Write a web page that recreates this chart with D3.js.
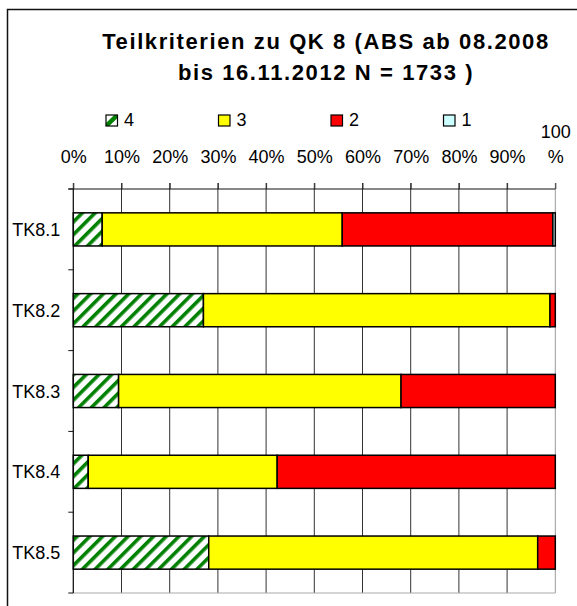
<!DOCTYPE html>
<html><head><meta charset="utf-8">
<script src="https://cdn.jsdelivr.net/npm/d3@7"></script>
<style>body{margin:0;background:#fff}svg{display:block}text{font-family:"Liberation Sans",Arial,sans-serif}</style>
</head><body>
<svg id="c" width="577" height="606"></svg>
<script>
const categories = ["TK8.1","TK8.2","TK8.3","TK8.4","TK8.5"];
const seriesNames = ["4","3","2","1"];
const s4 = [6.0, 27.0, 9.4, 3.1, 28.1];
const s3 = [49.8, 71.9, 58.6, 39.2, 68.25];
const s2 = [43.7, 1.1, 32.0, 57.7, 3.65];
const s1 = [0.5, 0, 0, 0, 0];
const tickValues = [0,10,20,30,40,50,60,70,80,90,100];
const tickLabels = ["0%","10%","20%","30%","40%","50%","60%","70%","80%","90%","100 %"];
const titleLines = ["Teilkriterien zu QK 8 (ABS ab 08.2008","bis 16.11.2012 N = 1733 )"];

const svg = d3.select("#c");
const defs = svg.append("defs");
const pat = defs.append("pattern").attr("id","hatch").attr("patternUnits","userSpaceOnUse")
  .attr("width",9).attr("height",9).attr("patternTransform","rotate(45)");
pat.append("rect").attr("width",9).attr("height",9).attr("fill","#fff");
pat.append("rect").attr("x",0).attr("width",3.6).attr("height",9).attr("fill","#008000");
defs.append("clipPath").attr("id","swclip").append("rect").attr("width",11.5).attr("height",11);

const fills = ["url(#hatch)","#FFFF00","#FF0000","#CCFFFF"];
const series = [s4,s3,s2,s1];

// frame
svg.append("rect").attr("x",7.5).attr("y",9.5).attr("width",620).attr("height",620)
  .attr("fill","none").attr("stroke","#111").attr("stroke-width",1.5);

const x = d3.scaleLinear().domain([0,100]).range([73.3,555.3]);
const y = d3.scaleBand().domain(categories).range([189,593]).paddingInner(0.59).paddingOuter(0.295);

// title
svg.append("g").selectAll("text").data(titleLines).join("text")
  .attr("x",326).attr("y",(d,i)=>49+i*31).attr("text-anchor","middle")
  .attr("font-size",22).attr("font-weight","bold").attr("letter-spacing",1.6).attr("fill","#000")
  .text(d=>d);

// legend
const lg = svg.append("g").selectAll("g").data(seriesNames).join("g")
  .attr("transform",(d,i)=>`translate(${106+i*112.5},115)`);
lg.append("rect").attr("width",11.5).attr("height",11).attr("fill",(d,i)=>i===0?"#fff":fills[i]);
lg.filter((d,i)=>i===0).append("line").attr("clip-path","url(#swclip)")
  .attr("x1",-1).attr("y1",12).attr("x2",12.5).attr("y2",-1)
  .attr("stroke","#008000").attr("stroke-width",4.5);
lg.append("rect").attr("width",11.5).attr("height",11).attr("fill","none")
  .attr("stroke","#000").attr("stroke-width",1.2);
lg.append("text").attr("x",18).attr("y",10.5).attr("font-size",18).text(d=>d);

// grid lines
const stepY = y.step();
const gridTop = 189, gridBot = 593;
svg.append("g").selectAll("line").data(tickValues).join("line")
  .attr("x1",d=>x(d)).attr("x2",d=>x(d)).attr("y1",gridTop-6).attr("y2",gridBot)
  .attr("stroke",(d,i)=>i===10?"#999":"#333").attr("stroke-width",1);
// bottom plot border
svg.append("line").attr("x1",x(0)).attr("x2",x(100)).attr("y1",gridBot).attr("y2",gridBot)
  .attr("stroke","#aaa").attr("stroke-width",1);

// top axis
const ax = d3.axisTop(x).tickValues(tickValues).tickSize(6).tickFormat((d,i)=>tickLabels[i]);
const axg = svg.append("g").attr("transform",`translate(0,${gridTop})`).call(ax);
axg.select(".domain").remove();
axg.selectAll(".tick line").attr("stroke","#333");
axg.append("line").attr("x1",x(0)-5).attr("x2",x(100)).attr("stroke","#111");
axg.selectAll(".tick text").attr("font-size",18).attr("font-family","Liberation Sans, Arial, sans-serif")
  .attr("fill","#000").attr("y",null).attr("dy",null).attr("transform","translate(0,-26)")
  .each(function(d,i){
    const t = d3.select(this); const parts = tickLabels[i].split(" ");
    t.text(null);
    parts.forEach((p,k)=>t.append("tspan").attr("x",0).attr("dy",k===0?(parts.length>1?-25:0):25).text(p));
  });

// left axis
const boundaries = d3.range(categories.length+1).map(i=>189+i*stepY);
svg.append("line").attr("x1",x(0)).attr("x2",x(0)).attr("y1",gridTop).attr("y2",gridBot).attr("stroke","#111");
svg.append("g").selectAll("line").data(boundaries).join("line")
  .attr("x1",x(0)-5).attr("x2",x(0)).attr("y1",d=>d).attr("y2",d=>d).attr("stroke","#111");
svg.append("g").selectAll("text").data(categories).join("text")
  .attr("x",x(0)-13).attr("y",d=>y(d)+y.bandwidth()/2+6.5).attr("text-anchor","end")
  .attr("font-size",18).text(d=>d);

// bars
const stackData = categories.map((c,i)=>{
  let acc=0; return series.map((s,k)=>{const o={cat:c,k,x0:acc,x1:acc+s[i]}; acc+=s[i]; return o;});
}).flat().filter(d=>d.x1>d.x0);
svg.append("g").selectAll("rect").data(stackData).join("rect")
  .attr("x",d=>x(d.x0)).attr("width",d=>x(d.x1)-x(d.x0))
  .attr("y",d=>y(d.cat)).attr("height",y.bandwidth())
  .attr("fill",d=>fills[d.k]).attr("stroke","#000").attr("stroke-width",1.5);
</script>
</body></html>
